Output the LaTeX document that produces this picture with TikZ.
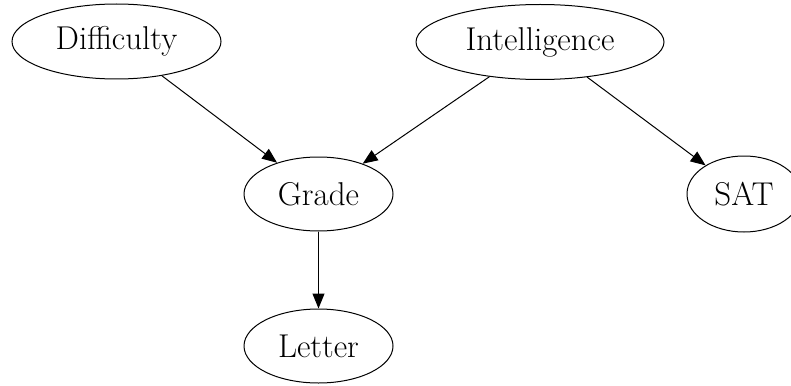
\documentclass[tikz,border=0pt]{standalone}
\usetikzlibrary{shapes.geometric,arrows.meta}
\begin{document}
\begin{tikzpicture}[x=1pt,y=-1pt,
  nd/.style={ellipse,draw,line width=1pt,inner sep=0pt,font=\fontsize{33}{40}\selectfont},
  edge/.style={line width=1pt,-{Triangle[length=15pt,width=12pt]}}]
\useasboundingbox (0,0) rectangle (791,385);
\node[nd,minimum width=209pt,minimum height=75pt] (d) at (116.5,41.5) {Difficulty};
\node[nd,minimum width=248pt,minimum height=75pt] (i) at (540,42) {Intelligence};
\node[nd,minimum width=149pt,minimum height=74pt] (g) at (318.5,194) {Grade};
\node[nd,minimum width=114pt,minimum height=76pt] (s) at (744,194) {SAT};
\node[nd,minimum width=149pt,minimum height=74pt] (l) at (318.5,346) {Letter};
\draw[edge] (d) -- (g);
\draw[edge] (i) -- (g);
\draw[edge] (i) -- (s);
\draw[edge] (g) -- (l);
\end{tikzpicture}
\end{document}
